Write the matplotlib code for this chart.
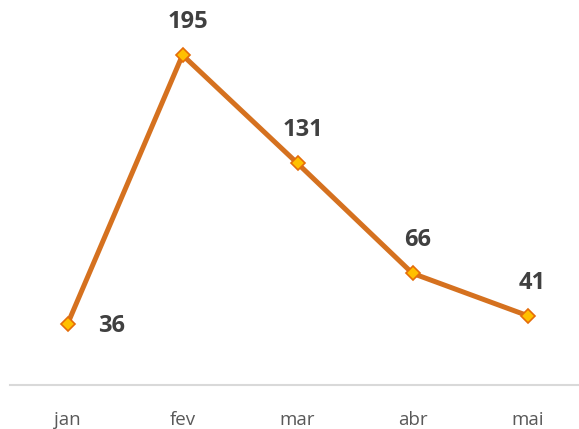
import matplotlib.pyplot as plt

months = ['jan', 'fev', 'mar', 'abr', 'mai']
values = [36, 195, 131, 66, 41]

fig = plt.figure(figsize=(5.79, 4.29), dpi=100)
ax = fig.add_axes([10 / 579, 44 / 429, 575 / 579, 385 / 429])

x = range(len(months))
ax.plot(x, values, color='#D5711F', linewidth=3.6, marker='D', markersize=7.5,
        markerfacecolor='#FFC000', markeredgecolor='#E46C0A', markeredgewidth=1.2,
        solid_joinstyle='miter', zorder=3)

# data labels: first one to the right, the rest above
for i, v in enumerate(values):
    if i == 0:
        ax.annotate(str(v), (i, v), xytext=(44, -2), textcoords='offset pixels',
                    ha='center', va='center', fontsize=17, fontweight='bold',
                    family='Open Sans', color='#404040')
    else:
        ax.annotate(str(v), (i, v), xytext=(5, 33), textcoords='offset pixels',
                    ha='center', va='center', fontsize=17, fontweight='bold',
                    family='Open Sans', color='#404040')

ax.set_xlim(-0.5, 4.5)
ax.set_ylim(0, 385 / 1.692)
ax.set_xticks(list(x))
ax.set_xticklabels(months, fontsize=13.5, family='Open Sans', color='#595959')
ax.tick_params(axis='x', length=0, pad=19)
ax.set_yticks([])
for side in ['top', 'right', 'left']:
    ax.spines[side].set_visible(False)
ax.spines['bottom'].set_color('#D9D9D9')
ax.spines['bottom'].set_linewidth(1.5)

fig.savefig('out.png', dpi=100)
